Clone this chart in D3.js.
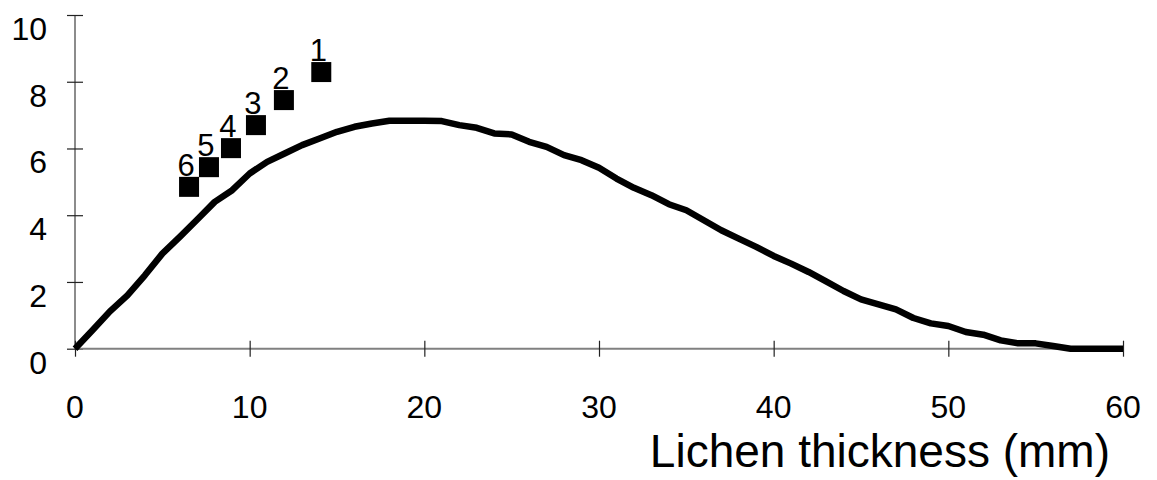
<!DOCTYPE html>
<html>
<head>
<meta charset="utf-8">
<script src="https://cdn.jsdelivr.net/npm/d3@7"></script>
<style>
  body { margin: 0; background: #fff; }
  text { font-family: "Liberation Sans", Arial, sans-serif; fill: #000; }
</style>
</head>
<body>
<script>
const width  = 1157;
const height = 480;

// curve, one value per mm of lichen thickness (0..60)
const thickness = d3.range(0, 61);
const curveVals = [
  0, 0.55, 1.12, 1.6, 2.2, 2.85, 3.35, 3.87, 4.4, 4.75,
  5.25, 5.6, 5.85, 6.1, 6.3, 6.5, 6.65, 6.75, 6.83, 6.83,
  6.83, 6.82, 6.7, 6.62, 6.45, 6.42, 6.2, 6.05, 5.8, 5.65,
  5.42, 5.1, 4.82, 4.6, 4.33, 4.15, 3.85, 3.55, 3.3, 3.05,
  2.78, 2.55, 2.3, 2.02, 1.73, 1.48, 1.33, 1.18, 0.92, 0.76,
  0.68, 0.5, 0.42, 0.25, 0.16, 0.16, 0.08, 0, 0, 0,
  0
];

// the six measured samples
const pointLabels = ['1', '2', '3', '4', '5', '6'];
const pointX = [14.1, 11.96, 10.36, 8.93, 7.67, 6.53];
const pointY = [8.29, 7.45, 6.7, 6.01, 5.44, 4.85];

const xTicks = [0, 10, 20, 30, 40, 50, 60];
const yTicks = [0, 2, 4, 6, 8, 10];
const xTitle = 'Lichen thickness (mm)';

const x = d3.scaleLinear().domain([0, 60]).range([75, 1123]);
const y = d3.scaleLinear().domain([0, 10]).range([348.7, 15]);

const svg = d3.select('body').append('svg')
  .attr('width', width)
  .attr('height', height);

// y axis
const yAxis = svg.append('g')
  .attr('transform', 'translate(' + x(0) + ',0)')
  .call(d3.axisLeft(y).tickValues(yTicks).tickSize(8).tickFormat(''));
yAxis.select('.domain').attr('stroke', '#666').attr('stroke-width', 1.5)
  .attr('d', 'M0,' + y(10) + 'V' + y(0));
yAxis.selectAll('.tick line').attr('x1', -8).attr('x2', 8)
  .attr('stroke', '#222').attr('stroke-width', 1.2);

// x axis
const xAxis = svg.append('g')
  .attr('transform', 'translate(0,' + y(0) + ')')
  .call(d3.axisBottom(x).tickValues(xTicks).tickSize(8).tickFormat(''));
xAxis.select('.domain').attr('stroke', '#808080').attr('stroke-width', 2)
  .attr('d', 'M' + x(0) + ',0H' + x(60));
xAxis.selectAll('.tick line').attr('y1', -8).attr('y2', 8)
  .attr('stroke', '#222').attr('stroke-width', 1.2);

// tick labels
svg.selectAll('.ylab')
  .data(yTicks)
  .enter().append('text')
  .attr('class', 'ylab')
  .attr('x', 47)
  .attr('y', d => y(d) + 25)
  .attr('text-anchor', 'end')
  .style('font-size', '32px')
  .text(d => d);

svg.selectAll('.xlab')
  .data(xTicks)
  .enter().append('text')
  .attr('class', 'xlab')
  .attr('x', d => x(d))
  .attr('y', 418)
  .attr('text-anchor', 'middle')
  .style('font-size', '32px')
  .text(d => d);

svg.append('text')
  .attr('x', 1110)
  .attr('y', 467)
  .attr('text-anchor', 'end')
  .style('font-size', '46px')
  .text(xTitle);

// curve
const line = d3.line()
  .x((d, i) => x(thickness[i]))
  .y(d => y(d));

svg.append('path')
  .datum(curveVals)
  .attr('d', line)
  .attr('fill', 'none')
  .attr('stroke', '#000')
  .attr('stroke-width', 6.5)
  .attr('stroke-linejoin', 'round');

// squares + labels
const sq = 20;
const pts = pointX.map((v, i) => ({x: v, y: pointY[i], label: pointLabels[i]}));

svg.selectAll('.pt')
  .data(pts)
  .enter().append('rect')
  .attr('class', 'pt')
  .attr('x', d => x(d.x) - sq / 2)
  .attr('y', d => y(d.y) - sq / 2)
  .attr('width', sq)
  .attr('height', sq)
  .attr('fill', '#000');

svg.selectAll('.ptlab')
  .data(pts)
  .enter().append('text')
  .attr('class', 'ptlab')
  .attr('x', d => x(d.x) - 3)
  .attr('y', d => y(d.y) - sq / 2 - 1)
  .attr('text-anchor', 'middle')
  .style('font-size', '31px')
  .text(d => d.label);
</script>
</body>
</html>
